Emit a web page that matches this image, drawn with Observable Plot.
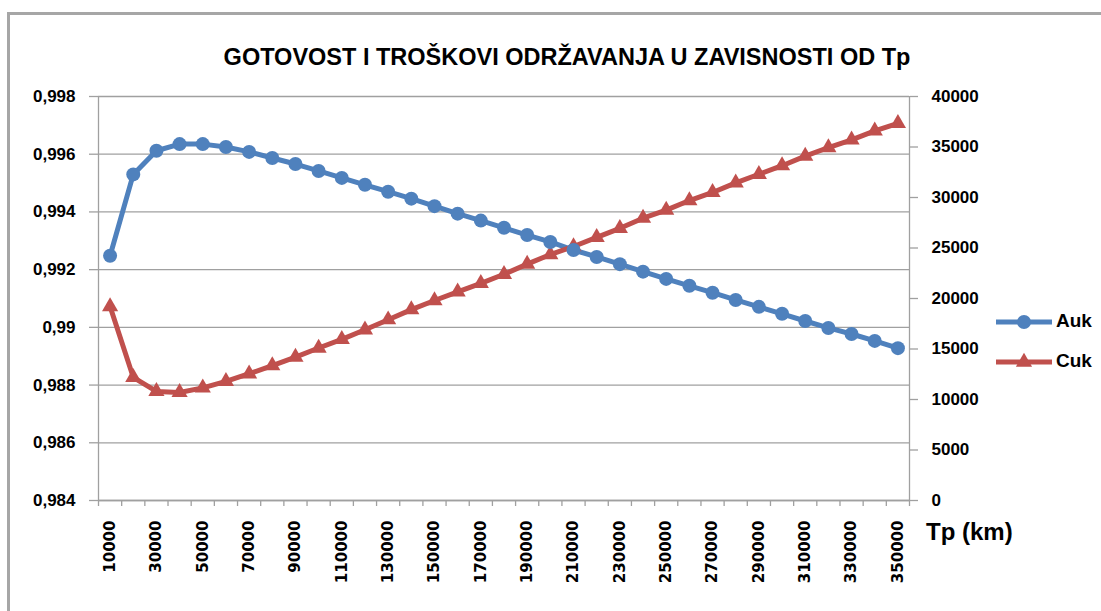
<!DOCTYPE html>
<html>
<head>
<meta charset="utf-8">
<script src="https://cdn.jsdelivr.net/npm/d3@7"></script>
<script src="https://cdn.jsdelivr.net/npm/@observablehq/plot@0.6"></script>
<style>
  html, body { margin: 0; padding: 0; background: #fff; }
  #wrap { position: relative; width: 1101px; height: 611px; overflow: hidden; font-family: "Liberation Sans", Arial, sans-serif; }
  #frame { position: absolute; left: 7px; top: 12px; width: 1200px; height: 700px; border-left: 3px solid #a6a6a6; border-top: 3px solid #a6a6a6; }
  #title { position: absolute; left: 0; width: 1134px; top: 44px; text-align: center; font-weight: bold; font-size: 23.5px; color: #000; }
  #xlabel { position: absolute; left: 926px; top: 518px; font-weight: bold; font-size: 24px; color: #000; }
  #chart { position: absolute; left: 0; top: 0; }
  .leg { position: absolute; left: 994px; width: 110px; height: 30px; }
  .leg span { position: absolute; left: 62px; top: 3px; font-weight: bold; font-size: 19px; color: #000; }
  .leg svg { position: absolute; left: 0; top: 0; }
</style>
</head>
<body>
<div id="wrap">
  <div id="frame"></div>
  <div id="chart"></div>
  <div id="title">GOTOVOST I TROŠKOVI ODRŽAVANJA U ZAVISNOSTI OD Tp</div>
  <div id="xlabel">Tp (km)</div>
  <div class="leg" id="legAuk" style="top:307px"></div>
  <div class="leg" id="legCuk" style="top:347px"></div>
</div>
<script>
// ---- data ----
const tp = [10000, 20000, 30000, 40000, 50000, 60000, 70000, 80000, 90000, 100000,
  110000, 120000, 130000, 140000, 150000, 160000, 170000, 180000, 190000, 200000,
  210000, 220000, 230000, 240000, 250000, 260000, 270000, 280000, 290000, 300000,
  310000, 320000, 330000, 340000, 350000];
const auk = [0.99248, 0.99530, 0.99612, 0.99635, 0.99635, 0.99625, 0.99608, 0.99587, 0.99566, 0.99542,
  0.99518, 0.99494, 0.99470, 0.99446, 0.99420, 0.99394, 0.99370, 0.99345, 0.99320, 0.99296,
  0.99268, 0.99244, 0.99219, 0.99193, 0.99168, 0.99144, 0.99120, 0.99095, 0.99071, 0.99047,
  0.99022, 0.98998, 0.98977, 0.98953, 0.98928];
const cuk = [19200, 12200, 10800, 10700, 11150, 11800, 12550, 13350, 14200, 15100,
  15950, 16900, 17900, 18900, 19800, 20650, 21500, 22400, 23400, 24350,
  25150, 26050, 26950, 27950, 28750, 29700, 30500, 31450, 32300, 33150,
  34100, 34950, 35700, 36600, 37350];
const xTickLabels = [10000, 30000, 50000, 70000, 90000, 110000, 130000, 150000, 170000,
  190000, 210000, 230000, 250000, 270000, 290000, 310000, 330000, 350000];
const leftTicks = [0.984, 0.986, 0.988, 0.990, 0.992, 0.994, 0.996, 0.998];
const rightTicks = [0, 5000, 10000, 15000, 20000, 25000, 30000, 35000, 40000];
const seriesNames = ["Auk", "Cuk"];
const colors = ["#4F81BD", "#C0504D"];

// ---- helpers ----
const step = tp[1] - tp[0];
const xDomain = [tp[0] - step / 2, tp[tp.length - 1] + step / 2];
const boundaries = tp.map(v => v - step / 2).concat([xDomain[1]]);
const yLo = leftTicks[0], yHi = leftTicks[leftTicks.length - 1];
const rLo = rightTicks[0], rHi = rightTicks[rightTicks.length - 1];
const toLeft = c => yLo + (c - rLo) / (rHi - rLo) * (yHi - yLo);
const fromLeft = y => Math.round(rLo + (y - yLo) / (yHi - yLo) * (rHi - rLo));
const fmtLeft = d => String(+d.toFixed(3)).replace(".", ",");

const rows = tp.map((t, i) => ({tp: t, auk: auk[i], cuk: cuk[i], cukY: toLeft(cuk[i])}));
const axisFont = {fontFamily: "Liberation Sans, Arial, sans-serif", fontWeight: "bold"};
const gray = "#a0a0a0";

const chart = Plot.plot({
  width: 1101,
  height: 611,
  marginLeft: 98,
  marginRight: 192,
  marginTop: 96,
  marginBottom: 111,
  style: {background: "transparent", color: "#000", overflow: "visible"},
  x: {domain: xDomain, type: "linear"},
  y: {domain: [yLo, yHi]},
  marks: [
    Plot.gridY(leftTicks, {stroke: gray, strokeOpacity: 1, strokeWidth: 1.3}),
    Plot.ruleX([xDomain[0], xDomain[1]], {stroke: gray, strokeWidth: 1.3}),
    Plot.ruleY([yLo], {stroke: gray, strokeWidth: 1.3}),
    Plot.axisY({anchor: "left", ticks: leftTicks, tickSize: 9, tickPadding: 14, tickFormat: fmtLeft,
      stroke: gray, strokeWidth: 1.3, fontSize: 17, ...axisFont, label: null}),
    Plot.axisY({anchor: "right", ticks: rightTicks.map(toLeft), tickSize: 8, tickPadding: 14,
      tickFormat: d => String(fromLeft(d)), stroke: gray, strokeWidth: 1.3, fontSize: 17, ...axisFont, label: null}),
    Plot.axisX({ticks: boundaries, tickSize: 6, tickFormat: () => "", stroke: gray, strokeWidth: 1.3, label: null}),
    Plot.axisX({ticks: xTickLabels, tickSize: 0, tickPadding: 20, tickRotate: -90, tickFormat: d => String(d),
      fontSize: 15, fontFamily: "DejaVu Sans", fontWeight: "bold", label: null}),
    Plot.line(rows, {x: "tp", y: "auk", stroke: colors[0], strokeWidth: 5}),
    Plot.line(rows, {x: "tp", y: "cukY", stroke: colors[1], strokeWidth: 5}),
    Plot.dot(rows, {x: "tp", y: "cukY", symbol: "triangle", r: 6, fill: colors[1]}),
    Plot.dot(rows, {x: "tp", y: "auk", symbol: "circle", r: 7, fill: colors[0]})
  ]
});
document.getElementById("chart").appendChild(chart);

// ---- legend ----
function legendItem(id, name, color, symbol) {
  const el = document.getElementById(id);
  const svg = d3.create("svg").attr("width", 60).attr("height", 30);
  svg.append("line").attr("x1", 2).attr("x2", 58).attr("y1", 15).attr("y2", 15)
    .attr("stroke", color).attr("stroke-width", 5);
  svg.append("path").attr("transform", "translate(30,15)")
    .attr("d", d3.symbol(symbol, symbol === d3.symbolCircle ? Math.PI * 49 : Math.PI * 36)())
    .attr("fill", color);
  el.appendChild(svg.node());
  const s = document.createElement("span");
  s.textContent = name;
  el.appendChild(s);
}
legendItem("legAuk", seriesNames[0], colors[0], d3.symbolCircle);
legendItem("legCuk", seriesNames[1], colors[1], d3.symbolTriangle);
</script>
</body>
</html>
